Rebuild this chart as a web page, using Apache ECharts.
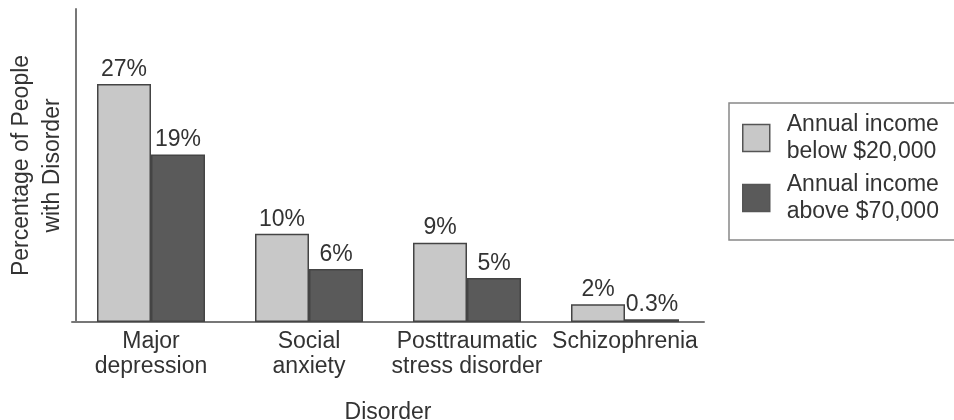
<!DOCTYPE html>
<html>
<head>
<meta charset="utf-8">
<script src="https://cdn.jsdelivr.net/npm/echarts@6/dist/echarts.min.js"></script>
<style>html,body{margin:0;padding:0;background:#fff;}#c{width:954px;height:420px;}</style>
</head>
<body>
<div id="c"></div>
<script>
var categories = ['Major\ndepression', 'Social\nanxiety', 'Posttraumatic\nstress disorder', 'Schizophrenia'];
var seriesNames = ['Annual income\nbelow $20,000', 'Annual income\nabove $70,000'];
var lowIncome = [27, 10, 9, 2];
var highIncome = [19, 6, 5, 0.3];

var font = '"Liberation Sans", Arial, Helvetica, sans-serif';
var fs = 23;
var chart = echarts.init(document.getElementById('c'), null, {renderer: 'canvas'});
function lbl(v) { return v.value + '%'; }
chart.setOption({
  animation: false,
  textStyle: {fontFamily: font},
  grid: {left: 72, width: 632, top: 9, bottom: 98, outerBoundsMode: 'none', containLabel: false},
  legend: {
    orient: 'vertical', left: 729, top: 103,
    padding: [5, 40, 12, 13],
    borderColor: '#888', borderWidth: 1.5,
    icon: 'rect',
    itemWidth: 27, itemHeight: 27, itemGap: 0,
    textStyle: {fontFamily: font, fontSize: fs, color: '#333', lineHeight: 27, padding: [6, 0, 0, 12]},
    data: seriesNames.map(function (n, i) {
      return {name: n, itemStyle: {color: i === 0 ? '#c8c8c8' : '#5a5a5a', borderColor: '#555', borderWidth: 1.5}};
    })
  },
  xAxis: {
    type: 'category', data: categories,
    name: 'Disorder', nameLocation: 'middle', nameGap: 79,
    nameTextStyle: {fontFamily: font, fontSize: fs, color: '#333'},
    axisLine: {lineStyle: {color: '#777', width: 2}},
    axisTick: {show: false},
    axisLabel: {fontFamily: font, fontSize: fs, color: '#333', lineHeight: 25, margin: 7, interval: 0}
  },
  yAxis: {
    type: 'value', min: 0, max: 35.5, offset: -4,
    name: 'Percentage of People\nwith Disorder', nameLocation: 'middle', nameGap: 8,
    nameTextStyle: {fontFamily: font, fontSize: fs, color: '#333', lineHeight: 31},
    axisLine: {show: true, lineStyle: {color: '#777', width: 2}},
    axisTick: {show: false}, axisLabel: {show: false}, splitLine: {show: false}
  },
  series: [
    {
      name: seriesNames[0], type: 'bar', data: lowIncome, barWidth: 54, barGap: '0%',
      itemStyle: {color: '#c8c8c8', borderColor: '#444', borderWidth: 1.5},
      label: {show: true, position: 'top', distance: 3, formatter: lbl, fontFamily: font, fontSize: fs, color: '#333'}
    },
    {
      name: seriesNames[1], type: 'bar', data: highIncome, barWidth: 54, barGap: '0%',
      itemStyle: {color: '#5a5a5a', borderColor: '#444', borderWidth: 1.5},
      label: {show: true, position: 'top', distance: 3, formatter: lbl, fontFamily: font, fontSize: fs, color: '#333'}
    }
  ]
});
</script>
</body>
</html>
